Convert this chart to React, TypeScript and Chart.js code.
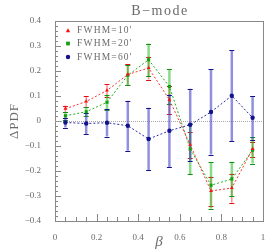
import React, { useEffect, useRef } from 'react';
import { Chart, registerables } from 'chart.js';
Chart.register(...registerables);

const beta = [0.05, 0.15, 0.25, 0.35, 0.45, 0.55, 0.65, 0.75, 0.85, 0.95];
const fwhm10 = [0.049, 0.078, 0.122, 0.186, 0.212, 0.085, -0.095, -0.28, -0.268, -0.112];
const fwhm10Err = [0.013, 0.022, 0.026, 0.041, 0.046, 0.056, 0.052, 0.058, 0.058, 0.03];
const fwhm20 = [0.021, 0.037, 0.075, 0.183, 0.245, 0.138, -0.112, -0.257, -0.232, -0.117];
const fwhm20Err = [0.015, 0.018, 0.03, 0.04, 0.065, 0.07, 0.1, 0.093, 0.069, 0.053];
const fwhm60 = [-0.006, -0.01, -0.007, -0.019, -0.072, -0.039, -0.015, 0.036, 0.101, 0.013];
const fwhm60Err = [0.02, 0.043, 0.055, 0.1, 0.125, 0.145, 0.144, 0.17, 0.182, 0.087];
const seriesLabels = ["FWHM=10'", "FWHM=20'", "FWHM=60'"];
const chartTitle = 'B−mode';
const yTitle = 'ΔPDF';
const xTitle = 'β';

const COLORS = [
  { line: '#ff3030', point: '#ff1010', bar: 'rgba(255,40,40,0.55)', cap: '#e01010' },
  { line: '#20b020', point: '#10a010', bar: 'rgba(40,190,40,0.55)', cap: '#109010' },
  { line: '#2a2aa8', point: '#12128a', bar: 'rgba(70,70,200,0.6)', cap: '#14148a' },
];
const STYLES = ['triangle', 'rect', 'circle'];
const SERIF = '"Liberation Serif", "DejaVu Serif", serif';
const TEXT = '#6a6a6a';

const errs = [fwhm10Err, fwhm20Err, fwhm60Err];
const vals = [fwhm10, fwhm20, fwhm60];

function drawMarker(ctx: CanvasRenderingContext2D, style: string, x: number, y: number, r: number, color: string) {
  ctx.save();
  ctx.fillStyle = color;
  ctx.beginPath();
  if (style === 'triangle') {
    ctx.moveTo(x, y - r);
    ctx.lineTo(x + r, y + r * 0.8);
    ctx.lineTo(x - r, y + r * 0.8);
    ctx.closePath();
  } else if (style === 'rect') {
    ctx.rect(x - r * 0.85, y - r * 0.85, r * 1.7, r * 1.7);
  } else {
    ctx.arc(x, y, r, 0, Math.PI * 2);
  }
  ctx.fill();
  ctx.restore();
}

const decorPlugin = {
  id: 'decor',
  beforeDatasetsDraw(chart: any) {
    const { ctx, chartArea: a, scales } = chart;
    const xs = scales.x, ys = scales.y;
    ctx.save();
    ctx.strokeStyle = '#888';
    ctx.lineWidth = 1;
    ctx.strokeRect(Math.round(a.left) + 0.5, Math.round(a.top) + 0.5, Math.round(a.right - a.left), Math.round(a.bottom - a.top));
    ctx.beginPath();
    for (let i = 0; i <= 40; i++) {
      const v = -0.4 + i * 0.02;
      const py = Math.round(ys.getPixelForValue(v)) + 0.5;
      const len = i % 5 === 0 ? 6 : 3;
      ctx.moveTo(a.left, py);
      ctx.lineTo(a.left + len, py);
    }
    for (let i = 0; i <= 20; i++) {
      const v = i * 0.05;
      const px = Math.round(xs.getPixelForValue(v)) + 0.5;
      const len = i % 4 === 0 ? 7 : 4;
      ctx.moveTo(px, a.bottom);
      ctx.lineTo(px, a.bottom - len);
    }
    ctx.stroke();
    ctx.strokeStyle = '#aaa';
    ctx.setLineDash([1, 1]);
    const zy = Math.round(ys.getPixelForValue(0)) + 0.5;
    ctx.beginPath();
    ctx.moveTo(a.left, zy);
    ctx.lineTo(a.right, zy);
    ctx.stroke();
    ctx.setLineDash([]);
    for (let s = 0; s < 3; s++) {
      const c = COLORS[s];
      for (let i = 0; i < beta.length; i++) {
        const px = xs.getPixelForValue(beta[i]);
        const top = ys.getPixelForValue(vals[s][i] + errs[s][i]);
        const bot = ys.getPixelForValue(vals[s][i] - errs[s][i]);
        ctx.strokeStyle = c.bar;
        ctx.lineWidth = s === 0 ? 1.5 : 2.5;
        ctx.beginPath();
        ctx.moveTo(px, top);
        ctx.lineTo(px, bot);
        ctx.stroke();
        ctx.strokeStyle = c.cap;
        ctx.lineWidth = 1;
        ctx.beginPath();
        ctx.moveTo(px - 2.5, Math.round(top) + 0.5);
        ctx.lineTo(px + 2.5, Math.round(top) + 0.5);
        ctx.moveTo(px - 2.5, Math.round(bot) + 0.5);
        ctx.lineTo(px + 2.5, Math.round(bot) + 0.5);
        ctx.stroke();
      }
    }
    ctx.restore();
  },
  afterDraw(chart: any) {
    const { ctx, chartArea: a } = chart;
    ctx.save();
    ctx.fillStyle = TEXT;
    ctx.textAlign = 'center';
    ctx.textBaseline = 'middle';
    ctx.font = `14px ${SERIF}`;
    (ctx as any).letterSpacing = '1.5px';
    ctx.fillText(chartTitle, (a.left + a.right) / 2 + 1, 11);
    (ctx as any).letterSpacing = '0px';
    ctx.font = `italic 15px ${SERIF}`;
    ctx.fillText(xTitle, (a.left + a.right) / 2, 242);
    ctx.save();
    ctx.translate(15, (a.top + a.bottom) / 2);
    ctx.rotate(-Math.PI / 2);
    ctx.font = `13px ${SERIF}`;
    (ctx as any).letterSpacing = '1px';
    ctx.fillText(yTitle, 0, 0);
    ctx.restore();
    ctx.font = `9.5px ${SERIF}`;
    ctx.textAlign = 'left';
    (ctx as any).letterSpacing = '1.2px';
    const ly = [30.5, 43.5, 57];
    for (let s = 0; s < 3; s++) {
      drawMarker(ctx, STYLES[s], 68, ly[s], 2.2, COLORS[s].point);
      ctx.fillStyle = TEXT;
      ctx.fillText(seriesLabels[s], 77, ly[s]);
    }
    (ctx as any).letterSpacing = '0px';
    ctx.restore();
  },
};

export default function App() {
  const ref = useRef<HTMLCanvasElement>(null);
  useEffect(() => {
    document.body.style.margin = '0';
    const chart = new Chart(ref.current!, {
      type: 'line',
      data: {
        datasets: vals.map((v, s) => ({
          label: seriesLabels[s],
          data: beta.map((b, i) => ({ x: b, y: v[i] })),
          borderColor: COLORS[s].line,
          borderWidth: 1,
          borderDash: [2, 2],
          pointStyle: STYLES[s] as any,
          pointRadius: 2.2,
          pointBackgroundColor: COLORS[s].point,
          pointBorderColor: COLORS[s].point,
          pointBorderWidth: 0,
          fill: false,
          tension: 0,
        })),
      },
      options: {
        animation: false,
        responsive: false,
        layout: { padding: { left: 0, right: 14, top: 21, bottom: 0 } },
        plugins: { legend: { display: false }, title: { display: false }, tooltip: { enabled: false } },
        scales: {
          x: {
            type: 'linear',
            min: 0,
            max: 1,
            grid: { display: false },
            border: { display: false },
            afterFit: (s: any) => { s.height = 28; },
            ticks: {
              stepSize: 0.2,
              padding: 3,
              color: TEXT,
              font: { family: SERIF, size: 9 },
              maxRotation: 0,
              callback: (v: any) => (v === 0 ? '0' : v === 1 ? '1' : Number(v).toFixed(1)),
            },
          },
          y: {
            type: 'linear',
            min: -0.4,
            max: 0.4,
            grid: { display: false },
            border: { display: false },
            afterFit: (s: any) => { s.width = 55; },
            ticks: {
              stepSize: 0.1,
              padding: 6,
              color: TEXT,
              font: { family: SERIF, size: 9 },
              callback: (v: any) => {
                const n = Math.round(Number(v) * 10) / 10;
                if (n === 0) return '0';
                return (n < 0 ? '−' : '') + Math.abs(n).toFixed(1);
              },
            },
          },
        },
      },
      plugins: [decorPlugin],
    });
    return () => chart.destroy();
  }, []);
  return <canvas ref={ref} width={277} height={249} />;
}
